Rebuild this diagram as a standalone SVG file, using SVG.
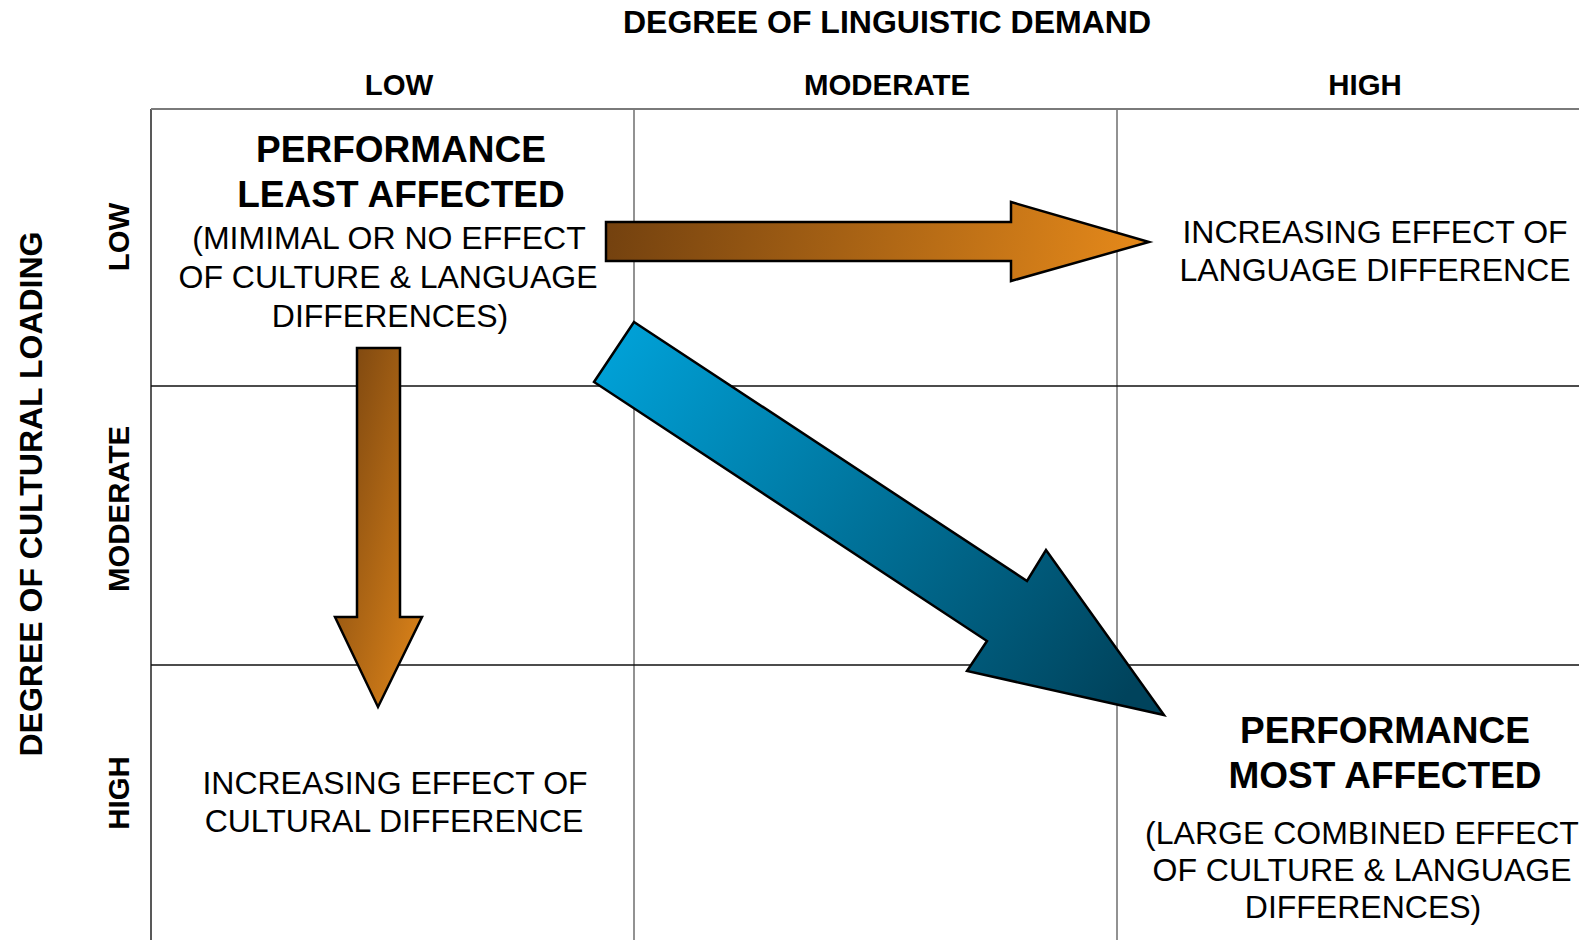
<svg xmlns="http://www.w3.org/2000/svg" width="1579" height="940" viewBox="0 0 1579 940">
<style>
  text { font-family: "Liberation Sans", Arial, sans-serif; fill: #000; }
  .title { font-size: 32px; font-weight: bold; }
  .head { font-size: 29.4px; font-weight: bold; }
  .big { font-size: 37px; font-weight: bold; text-anchor: middle; }
  .body { font-size: 32px; text-anchor: middle; }
  .vline { stroke: #6e6e6e; stroke-width: 1.5; }
  .hline { stroke: #111; stroke-width: 1.5; }
  .arrow { stroke: #000; stroke-width: 2.5; stroke-linejoin: miter; }
</style>
<defs>
  <linearGradient id="orangeH" gradientUnits="userSpaceOnUse" x1="606" y1="215" x2="1120" y2="300">
    <stop offset="0" stop-color="#73410f"/>
    <stop offset="1" stop-color="#e2871a"/>
  </linearGradient>
  <linearGradient id="orangeV" x1="0" y1="0" x2="1" y2="1">
    <stop offset="0" stop-color="#73410f"/>
    <stop offset="1" stop-color="#e2871a"/>
  </linearGradient>
  <linearGradient id="blue" gradientUnits="userSpaceOnUse" x1="620" y1="340" x2="1120" y2="705">
    <stop offset="0" stop-color="#00a0d6"/>
    <stop offset="1" stop-color="#00435c"/>
  </linearGradient>
</defs>
<rect x="0" y="0" width="1579" height="940" fill="#fff"/>

<g id="grid">
  <line class="vline" x1="151" y1="109" x2="151" y2="940" style="stroke:#222"/>
  <line class="vline" x1="634" y1="109" x2="634" y2="940"/>
  <line class="vline" x1="1117" y1="109" x2="1117" y2="940"/>
  <line x1="151" y1="109" x2="1579" y2="109" style="stroke:#7a7a7a;stroke-width:2"/>
  <line class="hline" x1="151" y1="386" x2="1579" y2="386"/>
  <line class="hline" x1="151" y1="665" x2="1579" y2="665"/>
</g>

<g id="axis-titles">
  <text class="title" x="887" y="33" text-anchor="middle">DEGREE OF LINGUISTIC DEMAND</text>
  <text class="title" transform="translate(42,494) rotate(-90)" text-anchor="middle">DEGREE OF CULTURAL LOADING</text>
  <text class="head" x="399" y="95" text-anchor="middle">LOW</text>
  <text class="head" x="887" y="95" text-anchor="middle">MODERATE</text>
  <text class="head" x="1365" y="95" text-anchor="middle">HIGH</text>
  <text class="head" transform="translate(129,237) rotate(-90)" text-anchor="middle">LOW</text>
  <text class="head" transform="translate(129,509) rotate(-90)" text-anchor="middle">MODERATE</text>
  <text class="head" transform="translate(129,793) rotate(-90)" text-anchor="middle">HIGH</text>
</g>

<g id="node-least-affected">
  <text class="big" x="401" y="162">PERFORMANCE</text>
  <text class="big" x="401" y="207">LEAST AFFECTED</text>
  <text class="body" x="389" y="249">(MIMIMAL OR NO EFFECT</text>
  <text class="body" x="388" y="288">OF CULTURE &amp; LANGUAGE</text>
  <text class="body" x="390" y="327">DIFFERENCES)</text>
</g>

<g id="node-language-difference">
  <text class="body" x="1375" y="243">INCREASING EFFECT OF</text>
  <text class="body" x="1375" y="281">LANGUAGE DIFFERENCE</text>
</g>

<g id="node-cultural-difference">
  <text class="body" x="395" y="794">INCREASING EFFECT OF</text>
  <text class="body" x="394" y="832">CULTURAL DIFFERENCE</text>
</g>

<g id="node-most-affected">
  <text class="big" x="1385" y="743">PERFORMANCE</text>
  <text class="big" x="1385" y="788">MOST AFFECTED</text>
  <text class="body" x="1362" y="844">(LARGE COMBINED EFFECT</text>
  <text class="body" x="1362" y="881">OF CULTURE &amp; LANGUAGE</text>
  <text class="body" x="1363" y="918">DIFFERENCES)</text>
</g>

<g id="connectors">
  <polygon class="arrow" fill="url(#orangeH)" points="606,222 1011,222 1011,202 1149,242 1011,281 1011,261 606,261"/>
  <polygon class="arrow" fill="url(#orangeV)" points="357,348 400,348 400,617 422,617 378,707 335,617 357,617"/>
  <polygon class="arrow" fill="url(#blue)" points="634,322 1027,581 1046,550 1164,715 967,671 987,641 594,382"/>
</g>
</svg>
